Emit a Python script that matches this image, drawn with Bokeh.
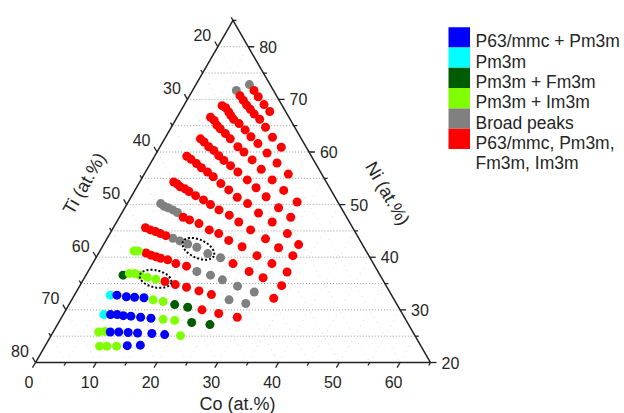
import numpy as np
from bokeh.plotting import figure
from bokeh.models import Range1d
from bokeh.embed import file_html
from bokeh.resources import INLINE
from bokeh.core.properties import value

# ---------------- data (at.%) ----------------
NI_MIN = 20.0
TI_MIN = 15.0
CO_MAX = 100.0 - NI_MIN - TI_MIN  # 65

co_ticks = [0, 10, 20, 30, 40, 50, 60]
ti_ticks = [20, 30, 40, 50, 60, 70, 80]
ni_ticks = [20, 30, 40, 50, 60, 70, 80]

legend_labels = ["P63/mmc + Pm3m", "Pm3m", "Pm3m + Fm3m", "Pm3m + Im3m",
                 "Broad peaks", "P63/mmc, Pm3m,", "Fm3m, Im3m"]

# P63/mmc + Pm3m (blue)
blue_co = [7.0, 8.7, 10.1, 11.7, 7.8, 8.9, 10.0, 11.3, 13.0, 14.8,
           9.4, 10.8, 12.4, 14.0, 16.4, 18.6, 13.5, 15.6]
blue_ni = [32.8, 32.5, 32.4, 32.3, 29.1, 29.1, 28.9, 28.8, 28.6, 28.4,
           25.8, 25.8, 25.7, 25.6, 25.5, 25.3, 23.2, 23.3]
# Pm3m (cyan)
cyan_co = [5.9, 6.7]
cyan_ni = [32.8, 29.1]
# Pm3m + Fm3m (dark green)
dkgreen_co = [6.1, 17.4, 19.8, 21.9, 25.1]
dkgreen_ni = [36.6, 31.0, 30.5, 27.6, 27.2]
# Pm3m + Im3m (light green)
green_co = [5.6, 6.3, 7.0, 7.9, 8.9, 10.3, 11.9, 13.4, 15.2, 16.9, 18.9,
            7.5, 8.5, 21.3, 9.0, 10.2, 11.8]
green_ni = [41.2, 41.2, 36.9, 36.9, 36.6, 36.2, 35.8, 31.9, 31.6, 28.2, 28.0,
            25.8, 25.9, 25.1, 23.1, 23.1, 23.1]
# Broad peaks (gray)
gray_co = [8.8, 7.2, 5.5, 6.3, 7.1, 8.1, 9.1, 10.8, 12.2, 13.8, 15.6, 18.0, 20.5,
           17.9, 20.5, 22.9, 26.0, 29.3, 25.9, 29.0]
gray_ni = [72.8, 71.7, 50.2, 49.7, 49.4, 49.0, 48.5, 43.6, 43.1, 42.5, 41.9, 40.7, 39.9,
           37.3, 36.6, 35.7, 34.5, 33.4, 31.9, 31.2]
# P63/mmc, Pm3m, Fm3m, Im3m (red)
red_co = [10.1, 11.4, 13.1, 14.7,
          8.3, 9.3, 10.3, 11.3, 12.4, 13.8, 15.5, 17.6, 20.0,
          6.3, 7.1, 8.0, 8.7, 9.5, 10.8, 12.4, 14.0, 15.8, 18.2, 20.8, 23.7,
          5.5, 6.4, 7.3, 8.2, 9.5, 10.8, 12.8, 14.3, 16.4, 18.8, 21.6, 24.5, 27.8,
          5.9, 6.8, 8.0, 9.2, 10.5, 11.8, 13.4, 15.2, 17.5, 19.7, 22.2, 25.3, 28.2,
          5.3, 6.3, 7.6, 8.8, 10.2, 11.6, 13.5, 15.4, 17.5, 19.8, 22.5, 25.6, 29.2, 32.1,
          5.6, 6.4, 7.1, 8.1, 9.0, 10.5, 12.2, 13.8, 15.7, 17.9, 20.1, 22.8, 26.1, 29.1, 32.2,
          10.5, 11.8, 13.7, 16.0, 17.9, 20.2, 23.0, 26.3, 29.5, 32.8,
          5.3, 6.3, 7.3, 8.3, 9.4, 23.1, 26.5, 29.4, 33.2,
          7.8, 8.8, 9.8, 10.7, 12.0, 13.7, 15.7, 33.1,
          13.6, 15.6, 17.7, 20.1, 22.5,
          22.4, 25.5, 28.9]
red_ni = [71.7, 70.5, 69.0, 67.7,
          70.7, 69.8, 68.9, 68.1, 67.2, 66.2, 64.7, 62.8, 60.9,
          68.8, 68.4, 67.6, 66.9, 66.2, 65.4, 64.2, 62.9, 61.6, 59.8, 57.9, 55.8,
          66.6, 66.0, 65.1, 64.4, 63.5, 62.5, 61.0, 60.0, 58.5, 56.7, 54.7, 52.7, 50.5,
          62.5, 61.9, 61.0, 60.3, 59.3, 58.4, 57.4, 56.2, 54.7, 53.2, 51.5, 49.4, 47.6,
          59.2, 58.6, 57.8, 57.0, 56.2, 55.3, 54.0, 52.8, 51.4, 50.2, 48.4, 46.7, 44.5, 42.4,
          54.3, 53.9, 53.4, 53.0, 52.5, 51.7, 50.9, 50.0, 49.0, 48.0, 46.7, 45.2, 43.5, 41.8, 40.3,
          47.6, 47.1, 46.4, 45.2, 44.5, 43.2, 42.0, 40.3, 38.8, 37.2,
          45.6, 45.2, 44.9, 44.5, 44.1, 38.8, 37.3, 36.1, 34.6,
          40.8, 40.4, 40.1, 39.8, 39.5, 38.8, 38.3, 32.2,
          35.4, 34.8, 34.3, 33.6, 32.9,
          30.0, 29.3, 28.6]

# dotted ellipses (centres in at.%)
ell_co = [11.8, 16.0]
ell_ni = [35.9, 41.6]

# ---------------- styling / geometry ----------------
PX = 6.077            # pixels per at.% along an edge
X0, Y0 = 35.0, 362.0  # pixel position of the (Co=0, Ni=20) corner
W, H = 624, 413
S3 = np.sqrt(3) / 2

COLORS = ["#0000FF", "#00FFFF", "#005C00", "#80FF00", "#808080", "#FF0000"]
TXT = "#262626"
FONT = value("Liberation Sans")


def tx(co, ni):
    return np.asarray(co, float) + (np.asarray(ni, float) - NI_MIN) / 2


def ty(ni):
    return (np.asarray(ni, float) - NI_MIN) * S3


def pxx(px):
    return (px - X0) / PX


def pxy(py):
    return (Y0 - py) / PX


p = figure(width=W, height=H,
           x_range=Range1d(pxx(0), pxx(W)), y_range=Range1d(pxy(H), pxy(0)),
           x_axis_type=None, y_axis_type=None, toolbar_location=None,
           output_backend="svg", min_border=0, outline_line_color=None)

# ---- grid lines ----
hx, hy = [], []
for n in np.arange(25, 100 - TI_MIN - 4, 5):
    hx.append([tx(0, n), tx(100 - TI_MIN - n, n)])
    hy.append([ty(n), ty(n)])
p.multi_line(hx, hy, line_color="#999999", line_dash="1 2", line_width=1)

sx, sy = [], []
for c in np.arange(5, CO_MAX, 5):
    sx.append([tx(c, NI_MIN), tx(c, 100 - TI_MIN - c)])
    sy.append([ty(NI_MIN), ty(100 - TI_MIN - c)])
for t in np.arange(TI_MIN + 5, 100 - NI_MIN, 5):
    sx.append([tx(0, 100 - t), tx(100 - t - NI_MIN, NI_MIN)])
    sy.append([ty(100 - t), ty(NI_MIN)])
p.multi_line(sx, sy, line_color="#cfcfcf", line_dash="1 5", line_width=1, line_alpha=0.8)

# ---- triangle ----
vx = [tx(0, NI_MIN), tx(0, 100 - TI_MIN), tx(CO_MAX, NI_MIN), tx(0, NI_MIN)]
vy = [ty(NI_MIN), ty(100 - TI_MIN), ty(NI_MIN), ty(NI_MIN)]
p.line(vx, vy, line_color="#222222", line_width=1.5)

# ---- ticks ----
LMAJ, LMIN = 6.0 / PX, 3.5 / PX
tkx, tky = [], []
for c in np.arange(0, CO_MAX + 0.1, 5):
    L = LMAJ if c % 10 == 0 else LMIN
    x0, y0 = tx(c, NI_MIN), ty(NI_MIN)
    tkx.append([x0, x0 - 0.5 * L]); tky.append([y0, y0 - S3 * L])
for t in np.arange(TI_MIN, 100 - NI_MIN + 0.1, 5):
    L = LMAJ if t % 10 == 0 else LMIN
    x0, y0 = tx(0, 100 - t), ty(100 - t)
    tkx.append([x0, x0 - 0.5 * L]); tky.append([y0, y0 + S3 * L])
for n in np.arange(NI_MIN, 100 - TI_MIN + 0.1, 5):
    L = LMAJ if n % 10 == 0 else LMIN
    x0, y0 = tx(100 - TI_MIN - n, n), ty(n)
    tkx.append([x0, x0 + L]); tky.append([y0, y0])
p.multi_line(tkx, tky, line_color="#222222", line_width=1.3)

# ---- data points ----
sets = [(gray_co, gray_ni, COLORS[4]), (red_co, red_ni, COLORS[5]),
        (dkgreen_co, dkgreen_ni, COLORS[2]), (green_co, green_ni, COLORS[3]),
        (cyan_co, cyan_ni, COLORS[1]), (blue_co, blue_ni, COLORS[0])]
for co, ni, col in sets:
    p.scatter(tx(co, ni), ty(ni), size=9, fill_color=col, line_color=None)

p.ellipse(x=tx(ell_co, ell_ni), y=ty(ell_ni), width=[5.3, 5.6], height=[2.8, 3.0],
          angle=[-13, -25], angle_units="deg", fill_color=None,
          line_color="black", line_dash="2 2", line_width=2)

# ---- tick labels ----
p.text(x=tx(co_ticks, [NI_MIN] * len(co_ticks)) - 6.5 / PX, y=[ty(NI_MIN) - 19 / PX] * len(co_ticks),
       text=[str(v) for v in co_ticks], text_font=FONT, text_font_size=value("16px"),
       text_align="center", text_baseline="middle", text_color=TXT)
ti_ni = [100 - t for t in ti_ticks]
p.text(x=tx([0] * len(ti_ticks), ti_ni) - 15.5 / PX, y=ty(ti_ni) + 11.5 / PX,
       text=[str(v) for v in ti_ticks], text_font=FONT, text_font_size=value("16px"),
       text_align="center", text_baseline="middle", text_color=TXT)
p.text(x=tx([100 - TI_MIN - n for n in ni_ticks], ni_ticks) + 11 / PX, y=ty(ni_ticks),
       text=[str(v) for v in ni_ticks], text_font=FONT, text_font_size=value("16px"),
       text_align="left", text_baseline="middle", text_color=TXT)

# ---- axis titles ----
p.text(x=[pxx(237)], y=[pxy(403)], text=["Co (at.%)"], text_font=FONT,
       text_font_size=value("18px"), text_align="center", text_baseline="middle", text_color=TXT)
p.text(x=[pxx(84)], y=[pxy(183)], text=["Ti (at.%)"], angle=[np.pi / 3], text_font=FONT,
       text_font_size=value("18px"), text_align="center", text_baseline="middle", text_color=TXT)
p.text(x=[pxx(387)], y=[pxy(193)], text=["Ni (at.%)"], angle=[-np.pi / 3], text_font=FONT,
       text_font_size=value("18px"), text_align="center", text_baseline="middle", text_color=TXT)

# ---- legend ----
SW_T, SW_H = 26.7, 20.3
tops = [SW_T + i * SW_H for i in range(6)]
p.quad(left=[pxx(448)] * 6, right=[pxx(469.5)] * 6,
       top=[pxy(t) for t in tops], bottom=[pxy(t + SW_H) for t in tops],
       fill_color=COLORS, line_color=None)
ty_txt = [t + SW_H / 2 + 4 for t in tops] + [tops[-1] + SW_H / 2 + 4 + SW_H]
p.text(x=[pxx(475)] * 7, y=[pxy(v) for v in ty_txt], text=legend_labels, text_font=FONT,
       text_font_size=value("17.5px"), text_align="left", text_baseline="middle", text_color=TXT)

open("out.html", "w").write(file_html(p, INLINE))
